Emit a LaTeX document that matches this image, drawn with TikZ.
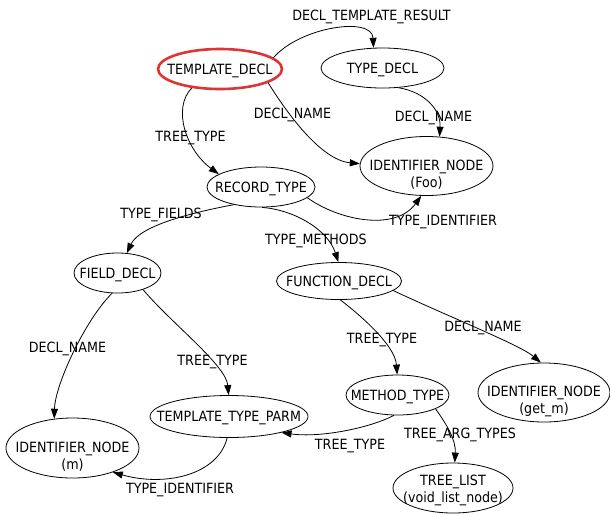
\documentclass[tikz,border=0pt]{standalone}
\usepackage{fontspec}
\setmainfont{DejaVu Sans Condensed}
\usetikzlibrary{arrows.meta,shapes.geometric}
\definecolor{rootred}{RGB}{221,52,52}
% two stacked lines, baseline on the first one
\newcommand\twoline[2]{\begin{tabular}[t]{@{}c@{}}#1\\#2\end{tabular}}
\begin{document}
\begin{tikzpicture}[x=1pt,y=-1pt,
  font=\fontsize{14.1}{17}\selectfont,
  tree/.style={ellipse, draw, line width=0.8pt, inner xsep=-40pt, inner ysep=-20pt,
               text height=10pt, text depth=0pt},
  root/.style={tree, draw=rootred, line width=2.6pt},
  twol/.style={text depth=2pt},
  link/.style={draw, line width=0.8pt, -{Triangle[length=10pt,width=7pt]}},
  elabel/.style={inner sep=0pt, text height=10pt, text depth=0pt}]
\useasboundingbox (0,0) rectangle (610,515);

% tree nodes
\node[root, minimum width=124pt, minimum height=40pt] (td)  at (220,69)    {TEMPLATE\_DECL};
\node[tree, minimum width=123pt, minimum height=40pt] (tyd) at (382.5,68)  {TYPE\_DECL};
\node[tree, twol, minimum width=133pt, minimum height=59pt] (foo) at (426.5,166) {\twoline{IDENTIFIER\_NODE}{(Foo)}};
\node[tree, minimum width=108pt, minimum height=40pt] (rec) at (261,187)   {RECORD\_TYPE};
\node[tree, minimum width=87pt,  minimum height=40pt] (fd)  at (117.5,273) {FIELD\_DECL};
\node[tree, minimum width=125pt, minimum height=37pt] (fn)  at (339,281)   {FUNCTION\_DECL};
\node[tree, minimum width=158pt, minimum height=42pt] (tpp) at (229,416.5) {TEMPLATE\_TYPE\_PARM};
\node[tree, twol, minimum width=133pt, minimum height=60pt] (idm) at (72.5,448) {\twoline{IDENTIFIER\_NODE}{(m)}};
\node[tree, minimum width=103pt, minimum height=40pt] (mt)  at (397.5,395) {METHOD\_TYPE};
\node[tree, twol, minimum width=132pt, minimum height=59pt] (idg) at (544,392.5) {\twoline{IDENTIFIER\_NODE}{(get\_m)}};
\node[tree, twol, text depth=16pt, minimum width=120pt, minimum height=50pt] (tl)  at (453,488) {\twoline{TREE\_LIST}{(void\_list\_node)}};

% connectors
\path[link] (td.12)   .. controls (300,27)  and (372,16)  .. (tyd.114);
\path[link] (td.-16)  .. controls (285,110) and (320,160) .. (foo.178);
\path[link] (tyd.-51) .. controls (425,92)  and (441,110) .. (foo.66);
\path[link] (td.-146) .. controls (172,108) and (186,150) .. (rec.163);
\path[link] (rec.-13) .. controls (338,220) and (395,232) .. (foo.-100);
\path[link] (rec.-147).. controls (195,212) and (140,225) .. (fd.65);
\path[link] (rec.-87) .. controls (295,210) and (328,230) .. (fn.92);
\path[link] (fd.-105) .. controls (85,320)  and (55,385)  .. (idm.122);
\path[link] (fd.-33)  .. controls (170,322) and (226,365) .. (tpp.91);
\path[link] (tpp.-95) .. controls (218,475) and (165,487) .. (idm.-31);
\path[link] (fn.-86)  .. controls (360,315) and (395,345) .. (mt.91);
\path[link] (fn.-10)  .. controls (445,315) and (520,345) .. (idg.96);
\path[link] (mt.-100) .. controls (370,428) and (320,438) .. (tpp.-17);
\path[link] (mt.-20)  .. controls (447,425) and (456,440) .. (tl.86);

% connector labels
\node[elabel] (l1)  at (371.5,15)  {DECL\_TEMPLATE\_RESULT};
\node[elabel] (l2)  at (292.5,113) {DECL\_NAME};
\node[elabel] (l3)  at (433.5,116) {DECL\_NAME};
\node[elabel] (l4)  at (190.5,136) {TREE\_TYPE};
\node[elabel] (l5)  at (443,220)   {TYPE\_IDENTIFIER};
\node[elabel] (l6)  at (161,213)   {TYPE\_FIELDS};
\node[elabel] (l7)  at (316,239)   {TYPE\_METHODS};
\node[elabel] (l8)  at (67.5,347)  {DECL\_NAME};
\node[elabel] (l9)  at (212.5,360) {TREE\_TYPE};
\node[elabel] (l10) at (180,488)   {TYPE\_IDENTIFIER};
\node[elabel] (l11) at (382,338)   {TREE\_TYPE};
\node[elabel] (l12) at (483,326)   {DECL\_NAME};
\node[elabel] (l13) at (350,444)   {TREE\_TYPE};
\node[elabel] (l14) at (460,433)   {TREE\_ARG\_TYPES};
\end{tikzpicture}
\end{document}
